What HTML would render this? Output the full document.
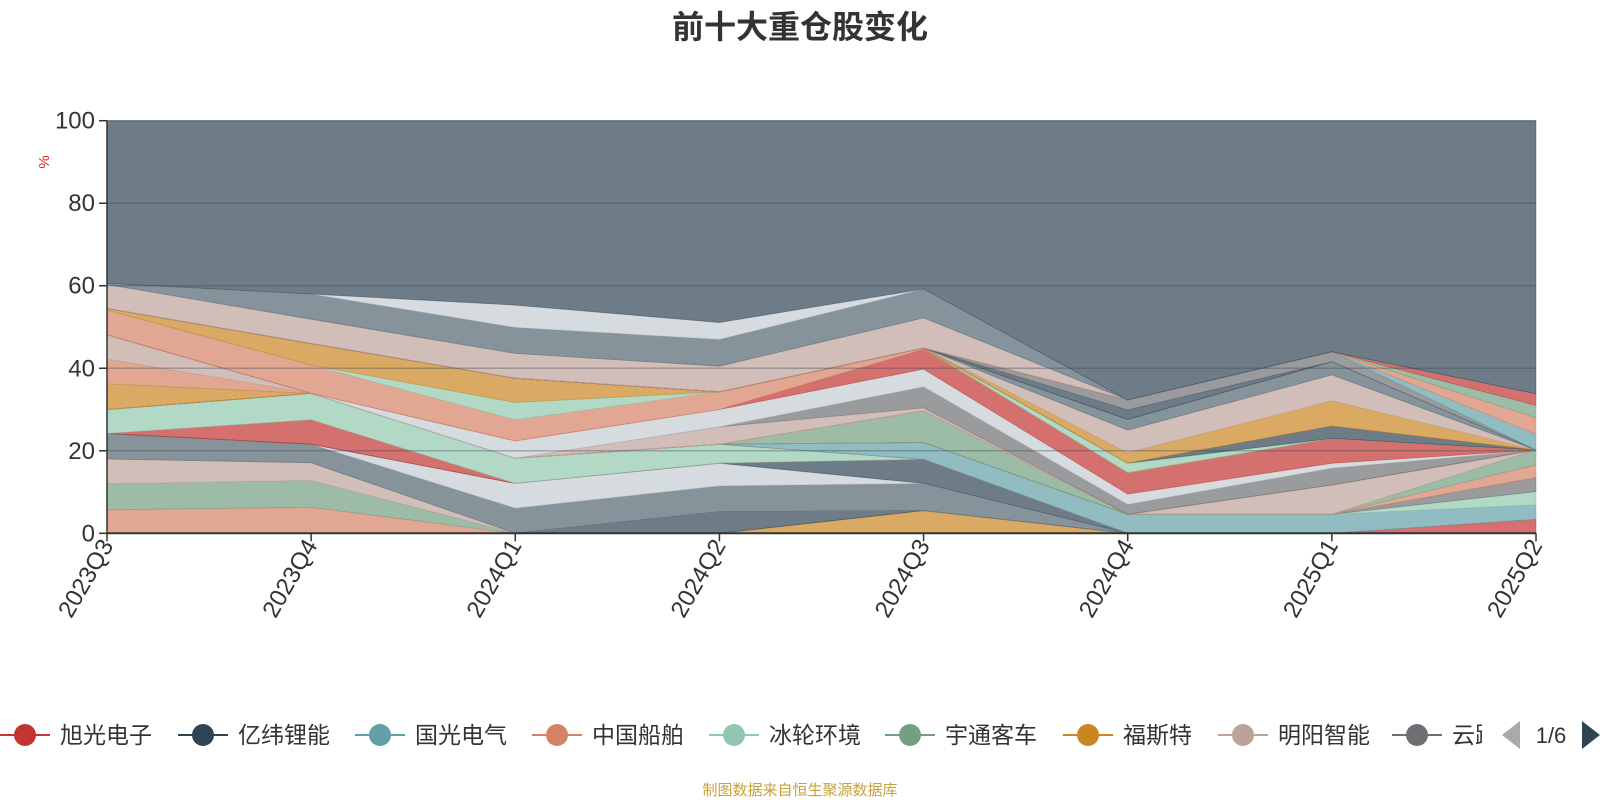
<!DOCTYPE html>
<html><head><meta charset="utf-8"><style>
html,body{margin:0;padding:0;background:#fff;}
svg{display:block;font-family:"Liberation Sans","Noto Sans CJK SC",sans-serif;}
</style></head><body>
<svg id="chart" width="1600" height="800" viewBox="0 0 1600 800">
<text x="800" y="38" text-anchor="middle" font-size="32" font-weight="bold" fill="#333">前十大重仓股变化</text>
<text transform="translate(49,162) rotate(-90)" text-anchor="middle" font-size="15" fill="#e02020">%</text>
<g id="areas"></g>
<g id="grid"></g>
<g id="axes"></g>
<g id="legend"></g>
<text x="800" y="795" text-anchor="middle" font-size="15" fill="#c9a03a">制图数据来自恒生聚源数据库</text>
</svg>
<script>
const categories = ["2023Q3","2023Q4","2024Q1","2024Q2","2024Q3","2024Q4","2025Q1","2025Q2"];
const yTicks = [0,20,40,60,80,100];
const seriesColors = {
  red:"#c23531", dark:"#2f4554", teal:"#61a0a8", salmon:"#d48265", mint:"#91c7ae",
  green:"#749f83", orange:"#ca8622", pink:"#bda29a", medgray:"#6e7074", gray:"#546570", light:"#c4ccd3"
};
const seriesNames = ["s01","s02","s03","s04","s05","s06","s07","s08","s09","s10","s11","s12","s13","s14","s15","s16","s17","s18","s19","s20","s21","s22","s23","s24","s25","s26","s27","s28","s29","s30","s31","s32","s33","s34","s35","s36","s37","s38","s39","s40","s41","s42","s43"];
const seriesColorKeys = ["orange","dark","salmon","green","pink","gray","light","dark","red","mint","red","teal","mint","medgray","salmon","green","green","pink","orange","salmon","pink","pink","medgray","light","red","salmon","mint","orange","mint","dark","orange","pink","gray","dark","medgray","teal","salmon","green","red","pink","gray","light","dark"];
const v01 = [0,0,0,0,5.5,0,0,0];
const v02 = [0,0,0,5.2,0,0,0,0];
const v03 = [5.7,6.3,0,0,0,0,0,0];
const v04 = [6.3,6.5,0,0,0,0,0,0];
const v05 = [6,4.3,0,0,0,0,0,0];
const v06 = [6.2,4.5,6.1,6.3,6.6,0,0,0];
const v07 = [0,0,6,5.5,0,0,0,0];
const v08 = [0,0,0,0,5.8,0,0,0];
const v09 = [0,5.9,0,0,0,0,0,0];
const v10 = [5.8,6.4,6.1,4.6,0,0,0,0];
const v11 = [0,0,0,0,0,0,0,3.4];
const v12 = [0,0,0,0,4.1,4.6,4.6,3.5];
const v13 = [0,0,0,0,0,0,0,3.2];
const v14 = [0,0,0,0,0,0,0,3.4];
const v15 = [0,0,0,0,0,0,0,3.1];
const v16 = [0,0,0,0,0,0,0,3.6];
const v17 = [0,0,0,0,7.7,0,0,0];
const v18 = [0,0,0,0,0,0,7.1,0];
const v19 = [6.2,0,0,0,0,0,0,0];
const v20 = [6,0,0,0,0,0,0,0];
const v21 = [5.9,0,0,0,0,0,0,0];
const v22 = [0,0,0,4.2,0.7,0,0,0];
const v23 = [0,0,0,0,5.1,2.4,4.1,0];
const v24 = [0,0,4.2,4.2,4.3,2.5,1.2,0];
const v25 = [0,0,0,0,4.8,5.2,6,0];
const v26 = [6,6.9,5.1,4.3,0.3,0,0,0];
const v27 = [0,0,4.2,0,0,0,0,0];
const v28 = [0.4,5.2,5.9,0,0,0,0,0];
const v29 = [0,0,0,0,0,2.3,0,0];
const v30 = [0,0,0,0,0,0,3,0];
const v31 = [0,0,0,0,0,2.5,6.1,0];
const v32 = [0,0,0,0,0,5.5,6.3,0];
const v33 = [0,0,0,0,0,2.6,3.2,0];
const v34 = [0,0,0,0,0,2.3,0,0];
const v35 = [0,0,0,0,0,2.4,2.4,0];
const v36 = [0,0,0,0,0,0,0,3.8];
const v37 = [0,0,0,0,0,0,0,4];
const v38 = [0,0,0,0,0,0,0,3];
const v39 = [0,0,0,0,0,0,0,2.8];
const v40 = [5.8,5.9,6,6.2,7.3,0,0,0];
const v41 = [0.3,6.1,6.3,6.5,7,0,0,0];
const v42 = [0,0,5.4,4.1,0,0,0,0];
const v43 = [39.4,42,44.7,48.9,40.8,67.7,56,66.2];
const seriesValues = [v01,v02,v03,v04,v05,v06,v07,v08,v09,v10,v11,v12,v13,v14,v15,v16,v17,v18,v19,v20,v21,v22,v23,v24,v25,v26,v27,v28,v29,v30,v31,v32,v33,v34,v35,v36,v37,v38,v39,v40,v41,v42,v43];
const legendNames = ["旭光电子","亿纬锂能","国光电气","中国船舶","冰轮环境","宇通客车","福斯特","明阳智能","云路股份"];
const legendColors = ["#c23531","#2f4554","#61a0a8","#d48265","#91c7ae","#749f83","#ca8622","#bda29a","#6e7074"];

const NS = "http://www.w3.org/2000/svg";
const X0 = 107, X1 = 1536, Y0 = 533.3, Y1 = 120.7;
function xScale(i){ return X0 + (X1 - X0) * i / (categories.length - 1); }
function yScale(v){ return Y0 - (Y0 - Y1) * v / 100; }
function mk(tag, attrs, parent){
  const e = document.createElementNS(NS, tag);
  for (const k in attrs) e.setAttribute(k, attrs[k]);
  parent.appendChild(e); return e;
}
const areas = document.getElementById('areas');
const base = categories.map(() => 0);
seriesValues.forEach((vals, si) => {
  const lower = base.slice();
  const upper = base.map((b, i) => b + vals[i]);
  let d = "";
  upper.forEach((u, i) => { d += (i ? "L" : "M") + xScale(i).toFixed(1) + "," + yScale(u).toFixed(1); });
  for (let i = lower.length - 1; i >= 0; i--) d += "L" + xScale(i).toFixed(1) + "," + yScale(lower[i]).toFixed(1);
  d += "Z";
  const col = seriesColors[seriesColorKeys[si]];
  const p = mk('path', {d: d, fill: col, 'fill-opacity': 0.7, stroke: col, 'stroke-opacity': 0.5, 'stroke-width': 0.8}, areas);
  
  
  upper.forEach((u, i) => base[i] = u);
});
const grid = document.getElementById('grid');
yTicks.forEach(t => {
  if (t === 0) return;
  const l = mk('line', {x1: X0, x2: X1, y1: yScale(t), y2: yScale(t), stroke: '#3c4650', 'stroke-opacity': 0.35, 'stroke-width': 1.5}, grid);
  
  
});
const axes = document.getElementById('axes');
const ya = mk('line', {x1: X0, x2: X0, y1: Y1, y2: Y0, stroke: '#333', 'stroke-width': 1.5}, axes);


yTicks.forEach(t => {
  mk('line', {x1: X0 - 8, x2: X0, y1: yScale(t), y2: yScale(t), stroke: '#333', 'stroke-width': 1.5}, axes);
  const tx = mk('text', {x: X0 - 12, y: yScale(t) + 8, 'text-anchor': 'end', 'font-size': 24, fill: '#333'}, axes);
  tx.textContent = t;
  
  
});
const xa = mk('line', {x1: X0, x2: X1, y1: Y0, y2: Y0, stroke: '#333', 'stroke-width': 2}, axes);


categories.forEach((c, i) => {
  const x = xScale(i);
  mk('line', {x1: x, x2: x, y1: Y0, y2: Y0 + 8, stroke: '#333', 'stroke-width': 1.5}, axes);
  const tx = mk('text', {x: 0, y: 0, 'text-anchor': 'end', 'font-size': 24, fill: '#333', transform: 'translate(' + (x + 7) + ',' + (Y0 + 12) + ') rotate(-60)'}, axes);
  tx.textContent = c;
  
  
});
const legend = document.getElementById('legend');
const defs = mk('defs', {}, legend);
const cp = mk('clipPath', {id: 'lgclip'}, defs);
mk('rect', {x: 0, y: 700, width: 1482, height: 70}, cp);
const lgInner = mk('g', {'clip-path': 'url(#lgclip)'}, legend);
const legendX = [25, 203, 380, 557, 734, 910, 1088, 1243, 1417];
const LY = 735;
legendNames.forEach((n, i) => {
  const g = mk('g', {}, lgInner);
  
  
  const cx = legendX[i];
  mk('line', {x1: cx - 25, x2: cx + 25, y1: LY, y2: LY, stroke: legendColors[i], 'stroke-width': 2}, g);
  mk('circle', {cx: cx, cy: LY, r: 11, fill: legendColors[i]}, g);
  const t = mk('text', {x: cx + 35, y: LY + 8, 'font-size': 23, fill: '#333'}, g);
  t.textContent = n;
});
const prev = mk('polygon', {points: '1520,721 1520,749 1502,735', fill: '#aaa'}, legend);


const pg = mk('text', {x: 1551, y: 743, 'text-anchor': 'middle', 'font-size': 22, fill: '#333'}, legend);
pg.textContent = '1/6';


const next = mk('polygon', {points: '1582,721 1582,749 1600,735', fill: '#2f4554'}, legend);


</script>
</body></html>
